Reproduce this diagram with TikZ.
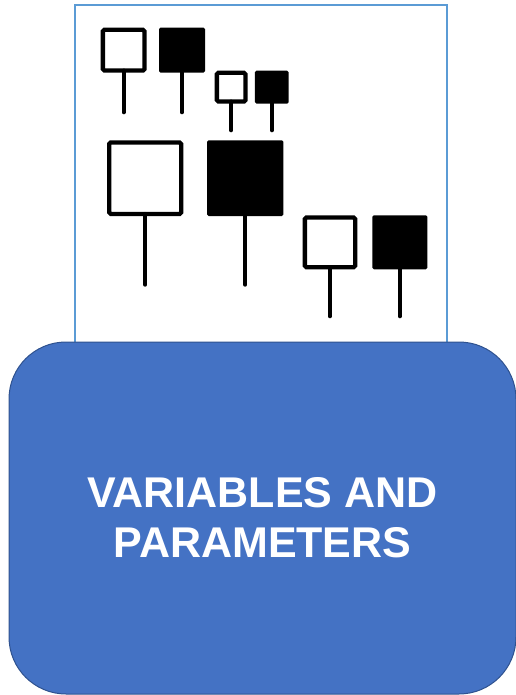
\documentclass[tikz,border=0pt]{standalone}
\usepackage{fontspec}
\setmainfont{Liberation Sans}
\definecolor{frameblue}{HTML}{5B9BD5}
\definecolor{boxblue}{HTML}{4472C4}
\definecolor{boxedge}{HTML}{2F528F}
\begin{document}
\begin{tikzpicture}[x=1pt,y=-1pt,
  hollowsq/.style={rectangle, draw=black, fill=white, line width=4.3pt, rounded corners=1.5pt, inner sep=0pt, outer sep=0pt},
  filledsq/.style={rectangle, fill=black, rounded corners=1.5pt, inner sep=0pt, outer sep=0pt},
  stem/.style={line width=4pt, line cap=round},
  frame/.style={draw=frameblue, line width=1.2pt, fill=white},
  mainbox/.style={rectangle, draw=boxedge, line width=1pt, fill=boxblue, rounded corners=57pt,
    minimum width=507pt, minimum height=352pt, inner sep=0pt, text=white, align=center,
    font=\fontsize{43pt}{50pt}\selectfont\bfseries}]
\useasboundingbox (0,0) rectangle (515,695);
% frame
\node[frame, rectangle, minimum width=372pt, minimum height=340pt, inner sep=0pt] (frm) at (261,175) {};
% squares
\node[hollowsq, minimum width=41.7pt, minimum height=40.7pt] (s1) at (123.7,50.2) {};
\node[filledsq, minimum width=46pt, minimum height=45pt] (s2) at (182,50.2) {};
\node[hollowsq, minimum width=28.7pt, minimum height=28.7pt] (s3) at (231.2,87.2) {};
\node[filledsq, minimum width=33.7pt, minimum height=33pt] (s4) at (271.8,87.2) {};
\node[hollowsq, minimum width=72pt, minimum height=71.4pt] (s5) at (145.2,178.2) {};
\node[filledsq, minimum width=76.3pt, minimum height=75.7pt] (s6) at (245.2,178.2) {};
\node[hollowsq, minimum width=50.3pt, minimum height=49.7pt] (s7) at (330,242.3) {};
\node[filledsq, minimum width=55pt, minimum height=54pt] (s8) at (399.8,242.3) {};
% stem ends
\coordinate (e1) at (123.7,112.3);
\coordinate (e2) at (182,112.3);
\coordinate (e3) at (231.2,130.3);
\coordinate (e4) at (271.8,130.3);
\coordinate (e5) at (145.2,284.7);
\coordinate (e6) at (245.2,284.7);
\coordinate (e7) at (330,316.3);
\coordinate (e8) at (399.8,316.3);
\foreach \i in {1,...,8} \draw[stem] (s\i.south) -- (e\i);
% main box
\node[mainbox] (mb) at (262.5,518) {VARIABLES AND\\PARAMETERS};
\end{tikzpicture}
\end{document}
